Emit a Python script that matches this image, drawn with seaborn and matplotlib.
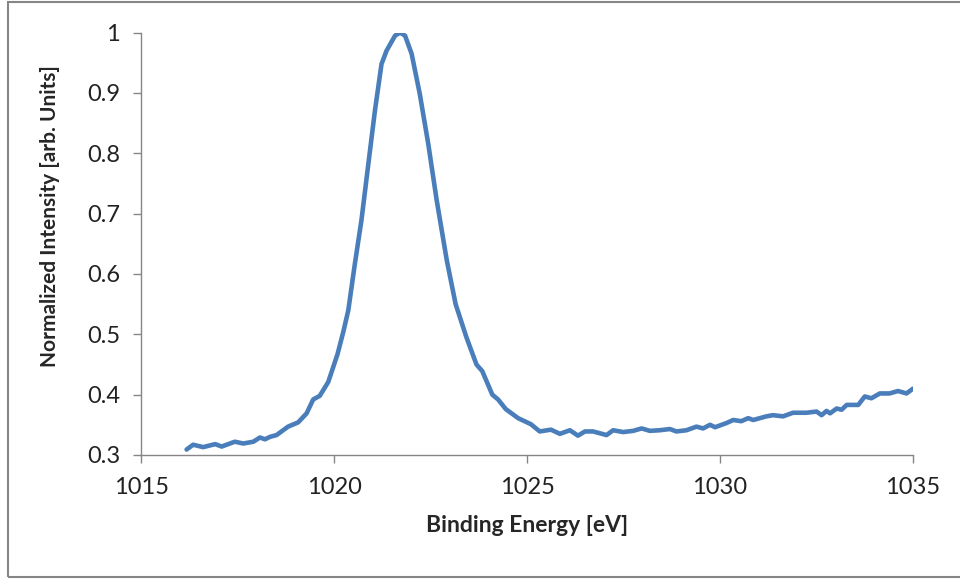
import matplotlib
matplotlib.use("Agg")
import matplotlib.pyplot as plt
import seaborn as sns
from matplotlib.patches import Rectangle

# binding energy (eV) and normalized intensity
energy = [1016.18, 1016.35, 1016.61, 1016.92, 1017.09, 1017.43, 1017.65, 1017.91, 1018.08, 1018.21,
          1018.34, 1018.51, 1018.81, 1019.07, 1019.29, 1019.46, 1019.63, 1019.85, 1020.09, 1020.24,
          1020.37, 1020.54, 1020.71, 1020.89, 1021.06, 1021.23, 1021.36, 1021.58, 1021.71, 1021.84,
          1022.01, 1022.22, 1022.44, 1022.66, 1022.92, 1023.15, 1023.43, 1023.69, 1023.84, 1024.10,
          1024.25, 1024.45, 1024.77, 1025.10, 1025.33, 1025.62, 1025.85, 1026.11, 1026.32, 1026.50,
          1026.71, 1027.06, 1027.23, 1027.49, 1027.75, 1027.97, 1028.18, 1028.44, 1028.70, 1028.87,
          1029.13, 1029.39, 1029.56, 1029.74, 1029.87, 1030.17, 1030.34, 1030.55, 1030.73, 1030.86,
          1031.20, 1031.37, 1031.63, 1031.89, 1032.24, 1032.50, 1032.63, 1032.76, 1032.85, 1033.02,
          1033.15, 1033.28, 1033.58, 1033.75, 1033.92, 1034.14, 1034.39, 1034.61, 1034.83, 1035.00]

intensity = [0.309, 0.317, 0.313, 0.318, 0.314, 0.322, 0.319, 0.322, 0.329, 0.326,
             0.330, 0.333, 0.347, 0.354, 0.369, 0.392, 0.398, 0.421, 0.467, 0.504,
             0.540, 0.617, 0.689, 0.783, 0.871, 0.948, 0.970, 0.995, 1.000, 0.995,
             0.965, 0.899, 0.816, 0.722, 0.623, 0.550, 0.495, 0.450, 0.439, 0.400,
             0.392, 0.376, 0.361, 0.351, 0.339, 0.342, 0.335, 0.341, 0.332, 0.339,
             0.339, 0.333, 0.341, 0.338, 0.340, 0.344, 0.340, 0.341, 0.343, 0.339,
             0.341, 0.347, 0.344, 0.350, 0.346, 0.353, 0.358, 0.356, 0.361, 0.358,
             0.364, 0.366, 0.364, 0.370, 0.370, 0.372, 0.366, 0.373, 0.369, 0.377,
             0.375, 0.383, 0.383, 0.397, 0.394, 0.402, 0.402, 0.406, 0.402, 0.410]

x_ticks = [1015, 1020, 1025, 1030, 1035]
y_ticks = [0.3, 0.4, 0.5, 0.6, 0.7, 0.8, 0.9, 1.0]
y_labels = ["0.3", "0.4", "0.5", "0.6", "0.7", "0.8", "0.9", "1"]

sns.set_style("white")
plt.rcParams["font.family"] = ["Lato", "DejaVu Sans"]

fig = plt.figure(figsize=(9.6, 5.79), dpi=100)
ax = fig.add_axes([0.1469, 0.2142, 0.8042, 0.7294])

sns.lineplot(x=energy, y=intensity, ax=ax, color="#4A7EBB", linewidth=3.3)

ax.set_xlim(1015, 1035)
ax.set_ylim(0.3, 1.0)
ax.set_xticks(x_ticks)
ax.set_yticks(y_ticks)
ax.set_yticklabels(y_labels)

grey = "#868686"
for s in ["top", "right"]:
    ax.spines[s].set_visible(False)
for s in ["left", "bottom"]:
    ax.spines[s].set_color(grey)
    ax.spines[s].set_linewidth(1.0)
ax.tick_params(axis="both", direction="out", length=6, width=1.0, color=grey,
               labelsize=17, labelcolor="#222222", left=True, bottom=True)
ax.tick_params(axis="x", pad=10)
ax.tick_params(axis="y", pad=9)

ax.set_xlabel("Binding Energy [eV]", fontsize=16.5, fontweight="bold", labelpad=12)
ax.set_ylabel("Normalized Intensity [arb. Units]", fontsize=15, fontweight="bold")
ax.yaxis.set_label_coords(-0.105, 0.566)

# chart area border
fig.patches.append(Rectangle((8 / 960, 2 / 579), 1.0, 575 / 579, transform=fig.transFigure,
                             fill=False, edgecolor=grey, linewidth=1.5))

fig.savefig("out.png", dpi=100)
